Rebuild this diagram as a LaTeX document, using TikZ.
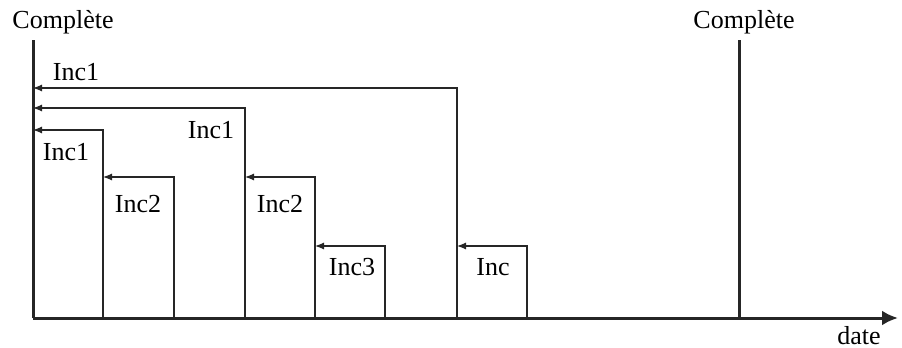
\documentclass[tikz,border=0pt]{standalone}
\usepackage{fontspec}
\setmainfont{Liberation Serif}
\usetikzlibrary{arrows.meta}
\tikzset{every picture/.style={line width=0.6pt}}
\tikzset{
  lab/.style={anchor=base, inner sep=0pt, font=\fontsize{13}{15}\selectfont},
  inc/.style={-{Latex[length=4.5pt,width=3.5pt]}, black!85},
  full/.style={line width=1.5pt, black!85}
}
\begin{document}
\begin{tikzpicture}[x=0.5pt, y=-0.5pt]
\useasboundingbox (0,0) rectangle (902,348);
% axis and full backups
\coordinate (o) at (33,318);
\coordinate (end) at (898,318);
\coordinate (c1) at (33,40);
\coordinate (c2b) at (739,318);
\coordinate (c2) at (739,40);
\draw[full, -{Latex[length=8pt,width=7.5pt]}] (o) -- (end);
\draw[full] (o) -- (c1);
\draw[full] (c2b) -- (c2);
\node[lab] (full1) at (63,28) {Complète};
\node[lab] (full2) at (744,28) {Complète};
\node[lab] (date) at (859,344) {date};
% incremental backups
\coordinate (a1) at (457,318); \coordinate (t1) at (33,88);
\coordinate (a2) at (245,318); \coordinate (t2) at (33,108);
\coordinate (a3) at (103,318); \coordinate (t3) at (33,130);
\coordinate (a4) at (174,318); \coordinate (t4) at (103,177);
\coordinate (a5) at (315,318); \coordinate (t5) at (245,177);
\coordinate (a6) at (385,318); \coordinate (t6) at (315,246);
\coordinate (a7) at (527,318); \coordinate (t7) at (457,246);
\path[inc] (a1) edge[to path={|- (\tikztotarget)}] (t1);
\path[inc] (a2) edge[to path={|- (\tikztotarget)}] (t2);
\path[inc] (a3) edge[to path={|- (\tikztotarget)}] (t3);
\path[inc] (a4) edge[to path={|- (\tikztotarget)}] (t4);
\path[inc] (a5) edge[to path={|- (\tikztotarget)}] (t5);
\path[inc] (a6) edge[to path={|- (\tikztotarget)}] (t6);
\path[inc] (a7) edge[to path={|- (\tikztotarget)}] (t7);
\node[lab] (l1) at (76,80) {Inc1};
\node[lab] (l2) at (211,138) {Inc1};
\node[lab] (l3) at (66,160) {Inc1};
\node[lab] (l4) at (138,213) {Inc2};
\node[lab] (l5) at (280,213) {Inc2};
\node[lab] (l6) at (352,275) {Inc3};
\node[lab] (l7) at (493,275) {Inc};
\end{tikzpicture}
\end{document}
